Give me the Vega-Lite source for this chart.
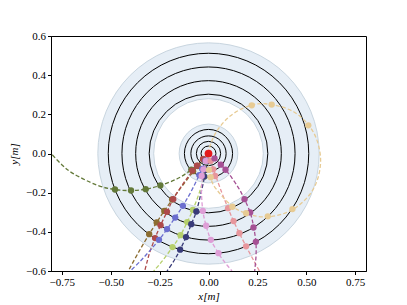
{
  "$schema": "https://vega.github.io/schema/vega-lite/v6.json",
  "width": 315,
  "height": 235,
  "autosize": {"type": "none"},
  "padding": {"left": 51, "top": 36, "right": 41, "bottom": 34},
  "background": "white",
  "config": {
    "view": {"stroke": "black", "strokeWidth": 1},
    "axis": {
      "domainColor": "black", "tickColor": "black", "labelColor": "black", "titleColor": "black",
      "labelFont": "Liberation Serif", "titleFont": "Liberation Serif",
      "labelFontSize": 11, "titleFontSize": 11, "titleFontWeight": "normal", "titleFontStyle": "italic",
      "tickSize": 3.5, "grid": false, "labelPadding": 2, "labelFlush": false, "labelOverlap": false, "labelBound": false
    }
  },
  "datasets": {
    "annuli": [{"r_out": 0.565, "r_in": 0.28}, {"r_out": 0.15, "r_in": 0}],
    "layers": [{"r": 0.038}, {"r": 0.062}, {"r": 0.09}, {"r": 0.123}, {"r": 0.303}, {"r": 0.372}, {"r": 0.442}, {"r": 0.512}],
    "tracks": [
      {"t": "olive", "i": 0, "x": 0, "y": 0}, {"t": "olive", "i": 1, "x": -0.026, "y": -0.03}, {"t": "olive", "i": 2, "x": -0.045, "y": -0.048}, {"t": "olive", "i": 3, "x": -0.09, "y": -0.085}, {"t": "olive", "i": 4, "x": -0.16, "y": -0.129}, {"t": "olive", "i": 5, "x": -0.246, "y": -0.163}, {"t": "olive", "i": 6, "x": -0.321, "y": -0.182}, {"t": "olive", "i": 7, "x": -0.396, "y": -0.189}, {"t": "olive", "i": 8, "x": -0.478, "y": -0.184}, {"t": "olive", "i": 9, "x": -0.569, "y": -0.162}, {"t": "olive", "i": 10, "x": -0.689, "y": -0.104}, {"t": "olive", "i": 11, "x": -0.75, "y": -0.057}, {"t": "olive", "i": 12, "x": -0.81, "y": 0.006},
      {"t": "brown", "i": 0, "x": 0, "y": 0}, {"t": "brown", "i": 1, "x": -0.043, "y": -0.05}, {"t": "brown", "i": 2, "x": -0.084, "y": -0.1}, {"t": "brown", "i": 3, "x": -0.16, "y": -0.2}, {"t": "brown", "i": 4, "x": -0.226, "y": -0.293}, {"t": "brown", "i": 5, "x": -0.265, "y": -0.352}, {"t": "brown", "i": 6, "x": -0.303, "y": -0.412}, {"t": "brown", "i": 7, "x": -0.355, "y": -0.5}, {"t": "brown", "i": 8, "x": -0.41, "y": -0.6},
      {"t": "red", "i": 0, "x": 0, "y": 0}, {"t": "red", "i": 1, "x": -0.047, "y": -0.05}, {"t": "red", "i": 2, "x": -0.089, "y": -0.1}, {"t": "red", "i": 3, "x": -0.127, "y": -0.15}, {"t": "red", "i": 4, "x": -0.18, "y": -0.233}, {"t": "red", "i": 5, "x": -0.212, "y": -0.298}, {"t": "red", "i": 6, "x": -0.245, "y": -0.366}, {"t": "red", "i": 7, "x": -0.273, "y": -0.432}, {"t": "red", "i": 8, "x": -0.299, "y": -0.5}, {"t": "red", "i": 9, "x": -0.313, "y": -0.55}, {"t": "red", "i": 10, "x": -0.326, "y": -0.6},
      {"t": "blue", "i": 0, "x": 0, "y": 0}, {"t": "blue", "i": 1, "x": -0.02, "y": -0.05}, {"t": "blue", "i": 2, "x": -0.042, "y": -0.1}, {"t": "blue", "i": 3, "x": -0.092, "y": -0.2}, {"t": "blue", "i": 4, "x": -0.131, "y": -0.267}, {"t": "blue", "i": 5, "x": -0.17, "y": -0.327}, {"t": "blue", "i": 6, "x": -0.212, "y": -0.386}, {"t": "blue", "i": 7, "x": -0.253, "y": -0.441}, {"t": "blue", "i": 8, "x": -0.303, "y": -0.5}, {"t": "blue", "i": 9, "x": -0.349, "y": -0.55}, {"t": "blue", "i": 10, "x": -0.4, "y": -0.6},
      {"t": "lgreen", "i": 0, "x": 0, "y": 0}, {"t": "lgreen", "i": 1, "x": -0.008, "y": -0.05}, {"t": "lgreen", "i": 2, "x": -0.019, "y": -0.1}, {"t": "lgreen", "i": 3, "x": -0.047, "y": -0.2}, {"t": "lgreen", "i": 4, "x": -0.08, "y": -0.288}, {"t": "lgreen", "i": 5, "x": -0.109, "y": -0.35}, {"t": "lgreen", "i": 6, "x": -0.143, "y": -0.417}, {"t": "lgreen", "i": 7, "x": -0.184, "y": -0.478}, {"t": "lgreen", "i": 8, "x": -0.237, "y": -0.55}, {"t": "lgreen", "i": 9, "x": -0.28, "y": -0.6},
      {"t": "navy", "i": 0, "x": 0, "y": 0}, {"t": "navy", "i": 1, "x": -0.007, "y": -0.05}, {"t": "navy", "i": 2, "x": -0.016, "y": -0.1}, {"t": "navy", "i": 3, "x": -0.038, "y": -0.2}, {"t": "navy", "i": 4, "x": -0.062, "y": -0.296}, {"t": "navy", "i": 5, "x": -0.088, "y": -0.361}, {"t": "navy", "i": 6, "x": -0.115, "y": -0.427}, {"t": "navy", "i": 7, "x": -0.145, "y": -0.491}, {"t": "navy", "i": 8, "x": -0.175, "y": -0.545}, {"t": "navy", "i": 9, "x": -0.212, "y": -0.6},
      {"t": "pink", "i": 0, "x": 0, "y": 0}, {"t": "pink", "i": 1, "x": -0.016, "y": -0.05}, {"t": "pink", "i": 2, "x": -0.027, "y": -0.1}, {"t": "pink", "i": 3, "x": -0.034, "y": -0.15}, {"t": "pink", "i": 4, "x": -0.036, "y": -0.2}, {"t": "pink", "i": 5, "x": -0.029, "y": -0.293}, {"t": "pink", "i": 6, "x": -0.012, "y": -0.369}, {"t": "pink", "i": 7, "x": 0.012, "y": -0.441}, {"t": "pink", "i": 8, "x": 0.051, "y": -0.509}, {"t": "pink", "i": 9, "x": 0.079, "y": -0.55}, {"t": "pink", "i": 10, "x": 0.12, "y": -0.6},
      {"t": "salmon", "i": 0, "x": 0, "y": 0}, {"t": "salmon", "i": 1, "x": 0.015, "y": -0.05}, {"t": "salmon", "i": 2, "x": 0.032, "y": -0.1}, {"t": "salmon", "i": 3, "x": 0.068, "y": -0.2}, {"t": "salmon", "i": 4, "x": 0.1, "y": -0.279}, {"t": "salmon", "i": 5, "x": 0.128, "y": -0.345}, {"t": "salmon", "i": 6, "x": 0.158, "y": -0.407}, {"t": "salmon", "i": 7, "x": 0.192, "y": -0.474}, {"t": "salmon", "i": 8, "x": 0.233, "y": -0.55}, {"t": "salmon", "i": 9, "x": 0.26, "y": -0.6},
      {"t": "magenta", "i": 0, "x": 0, "y": 0}, {"t": "magenta", "i": 1, "x": 0.026, "y": -0.022}, {"t": "magenta", "i": 2, "x": 0.05, "y": -0.044}, {"t": "magenta", "i": 3, "x": 0.1, "y": -0.099}, {"t": "magenta", "i": 4, "x": 0.15, "y": -0.17}, {"t": "magenta", "i": 5, "x": 0.184, "y": -0.233}, {"t": "magenta", "i": 6, "x": 0.213, "y": -0.301}, {"t": "magenta", "i": 7, "x": 0.23, "y": -0.371}, {"t": "magenta", "i": 8, "x": 0.242, "y": -0.451}, {"t": "magenta", "i": 9, "x": 0.243, "y": -0.52}, {"t": "magenta", "i": 10, "x": 0.236, "y": -0.6},
      {"t": "tan", "i": 0, "x": 0, "y": 0}, {"t": "tan", "i": 1, "x": 0.008, "y": 0.039}, {"t": "tan", "i": 2, "x": 0.039, "y": 0.109}, {"t": "tan", "i": 3, "x": 0.104, "y": 0.186}, {"t": "tan", "i": 4, "x": 0.191, "y": 0.237}, {"t": "tan", "i": 5, "x": 0.29, "y": 0.254}, {"t": "tan", "i": 6, "x": 0.435, "y": 0.213}, {"t": "tan", "i": 7, "x": 0.536, "y": 0.109}, {"t": "tan", "i": 8, "x": 0.573, "y": -0.036}, {"t": "tan", "i": 9, "x": 0.536, "y": -0.181}, {"t": "tan", "i": 10, "x": 0.432, "y": -0.285}, {"t": "tan", "i": 11, "x": 0.29, "y": -0.324}, {"t": "tan", "i": 12, "x": 0.145, "y": -0.285}, {"t": "tan", "i": 13, "x": 0.039, "y": -0.181}, {"t": "tan", "i": 14, "x": 0.008, "y": -0.112}, {"t": "tan", "i": 15, "x": 0.001, "y": -0.061}
    ],
    "hits": [
      {"t": "olive", "x": -0.026, "y": -0.03}, {"t": "olive", "x": -0.057, "y": -0.063}, {"t": "olive", "x": -0.088, "y": -0.082}, {"t": "olive", "x": -0.246, "y": -0.163}, {"t": "olive", "x": -0.321, "y": -0.182}, {"t": "olive", "x": -0.396, "y": -0.189}, {"t": "olive", "x": -0.478, "y": -0.184},
      {"t": "brown", "x": -0.026, "y": -0.03}, {"t": "brown", "x": -0.056, "y": -0.064}, {"t": "brown", "x": -0.079, "y": -0.09}, {"t": "brown", "x": -0.186, "y": -0.235}, {"t": "brown", "x": -0.226, "y": -0.293}, {"t": "brown", "x": -0.265, "y": -0.352}, {"t": "brown", "x": -0.303, "y": -0.412},
      {"t": "red", "x": -0.028, "y": -0.028}, {"t": "red", "x": -0.059, "y": -0.062}, {"t": "red", "x": -0.083, "y": -0.087}, {"t": "red", "x": -0.18, "y": -0.233}, {"t": "red", "x": -0.212, "y": -0.298}, {"t": "red", "x": -0.245, "y": -0.366}, {"t": "red", "x": -0.273, "y": -0.432},
      {"t": "blue", "x": -0.015, "y": -0.037}, {"t": "blue", "x": -0.032, "y": -0.079}, {"t": "blue", "x": -0.047, "y": -0.11}, {"t": "blue", "x": -0.131, "y": -0.267}, {"t": "blue", "x": -0.17, "y": -0.327}, {"t": "blue", "x": -0.212, "y": -0.386}, {"t": "blue", "x": -0.253, "y": -0.441},
      {"t": "lgreen", "x": -0.006, "y": -0.04}, {"t": "lgreen", "x": -0.013, "y": -0.084}, {"t": "lgreen", "x": -0.02, "y": -0.118}, {"t": "lgreen", "x": -0.08, "y": -0.288}, {"t": "lgreen", "x": -0.109, "y": -0.35}, {"t": "lgreen", "x": -0.143, "y": -0.417}, {"t": "lgreen", "x": -0.184, "y": -0.478},
      {"t": "navy", "x": -0.006, "y": -0.04}, {"t": "navy", "x": -0.015, "y": -0.084}, {"t": "navy", "x": -0.022, "y": -0.118}, {"t": "navy", "x": -0.062, "y": -0.296}, {"t": "navy", "x": -0.088, "y": -0.361}, {"t": "navy", "x": -0.115, "y": -0.427}, {"t": "navy", "x": -0.145, "y": -0.491},
      {"t": "pink", "x": -0.013, "y": -0.038}, {"t": "pink", "x": -0.026, "y": -0.081}, {"t": "pink", "x": -0.035, "y": -0.115}, {"t": "pink", "x": -0.029, "y": -0.293}, {"t": "pink", "x": -0.012, "y": -0.369}, {"t": "pink", "x": 0.012, "y": -0.441}, {"t": "pink", "x": 0.051, "y": -0.509},
      {"t": "salmon", "x": 0.011, "y": -0.038}, {"t": "salmon", "x": 0.024, "y": -0.081}, {"t": "salmon", "x": 0.034, "y": -0.115}, {"t": "salmon", "x": 0.1, "y": -0.279}, {"t": "salmon", "x": 0.128, "y": -0.345}, {"t": "salmon", "x": 0.158, "y": -0.407}, {"t": "salmon", "x": 0.192, "y": -0.474},
      {"t": "magenta", "x": 0.031, "y": -0.025}, {"t": "magenta", "x": 0.063, "y": -0.057}, {"t": "magenta", "x": 0.087, "y": -0.083}, {"t": "magenta", "x": 0.184, "y": -0.233}, {"t": "magenta", "x": 0.213, "y": -0.301}, {"t": "magenta", "x": 0.23, "y": -0.378}, {"t": "magenta", "x": 0.242, "y": -0.451},
      {"t": "tan", "x": 0.221, "y": 0.246}, {"t": "tan", "x": 0.323, "y": 0.25}, {"t": "tan", "x": 0.51, "y": 0.144}, {"t": "tan", "x": 0.429, "y": -0.284}, {"t": "tan", "x": 0.303, "y": -0.321}, {"t": "tan", "x": 0.192, "y": -0.305}, {"t": "tan", "x": 0.122, "y": -0.272}, {"t": "tan", "x": 0.011, "y": -0.121}, {"t": "tan", "x": 0.002, "y": -0.084}
    ],
    "vertex": [{"x": 0, "y": 0}]
  },
  "layer": [
    {
      "data": {"name": "annuli"},
      "mark": {"type": "arc", "theta": 0, "theta2": 6.2832, "fill": "#e6eef6", "stroke": "#c8d5df", "strokeWidth": 1},
      "encoding": {
        "radius": {"field": "r_out", "type": "quantitative", "stack": null, "scale": {"type": "linear", "domain": [0, 1], "range": [0, 195.8], "zero": true}},
        "radius2": {"field": "r_in"}
      }
    },
    {
      "data": {"name": "layers"},
      "mark": {"type": "arc", "theta": 0, "theta2": 6.2832, "filled": false, "stroke": "black", "strokeWidth": 1},
      "encoding": {
        "radius": {"field": "r", "type": "quantitative", "stack": null, "scale": {"type": "linear", "domain": [0, 1], "range": [0, 195.8], "zero": true}}
      }
    },
    {
      "data": {"name": "tracks"},
      "mark": {"type": "line", "strokeDash": [4, 2.2], "strokeWidth": 1.3, "interpolate": "cardinal", "clip": true},
      "encoding": {
        "x": {"field": "x", "type": "quantitative", "scale": {"domain": [-0.805, 0.805], "nice": false, "zero": false},
          "axis": {"values": [-0.75, -0.5, -0.25, 0, 0.25, 0.5, 0.75], "format": ".2f", "title": "x[m]", "titlePadding": 3, "labelOverlap": false}},
        "y": {"field": "y", "type": "quantitative", "scale": {"domain": [-0.6, 0.6], "nice": false, "zero": false},
          "axis": {"values": [-0.6, -0.4, -0.2, 0, 0.2, 0.4, 0.6], "format": ".1f", "title": "y[m]", "titlePadding": 6, "labelOverlap": false}},
        "color": {"field": "t", "type": "nominal", "legend": null,
          "scale": {"domain": ["olive", "brown", "red", "blue", "lgreen", "navy", "pink", "salmon", "magenta", "tan"],
            "range": ["#637939", "#8c6d31", "#ad494a", "#6b6ecf", "#b5cf6b", "#393b79", "#de9ed6", "#e7969c", "#a55194", "#e7cb94"]}},
        "order": {"field": "i", "type": "quantitative"}
      }
    },
    {
      "data": {"name": "hits"},
      "mark": {"type": "circle", "size": 40, "opacity": 1, "clip": true},
      "encoding": {
        "x": {"field": "x", "type": "quantitative",
          "axis": {"values": [-0.75, -0.5, -0.25, 0, 0.25, 0.5, 0.75], "format": ".2f", "title": "x[m]", "titlePadding": 3, "labelOverlap": false}},
        "y": {"field": "y", "type": "quantitative",
          "axis": {"values": [-0.6, -0.4, -0.2, 0, 0.2, 0.4, 0.6], "format": ".1f", "title": "y[m]", "titlePadding": 6, "labelOverlap": false}},
        "color": {"field": "t", "type": "nominal", "legend": null}
      }
    },
    {
      "data": {"name": "vertex"},
      "mark": {"type": "circle", "size": 60, "opacity": 1, "color": "#e41a1c"},
      "encoding": {
        "x": {"field": "x", "type": "quantitative",
          "axis": {"values": [-0.75, -0.5, -0.25, 0, 0.25, 0.5, 0.75], "format": ".2f", "title": "x[m]", "titlePadding": 3, "labelOverlap": false}},
        "y": {"field": "y", "type": "quantitative",
          "axis": {"values": [-0.6, -0.4, -0.2, 0, 0.2, 0.4, 0.6], "format": ".1f", "title": "y[m]", "titlePadding": 6, "labelOverlap": false}}
      }
    }
  ]
}
